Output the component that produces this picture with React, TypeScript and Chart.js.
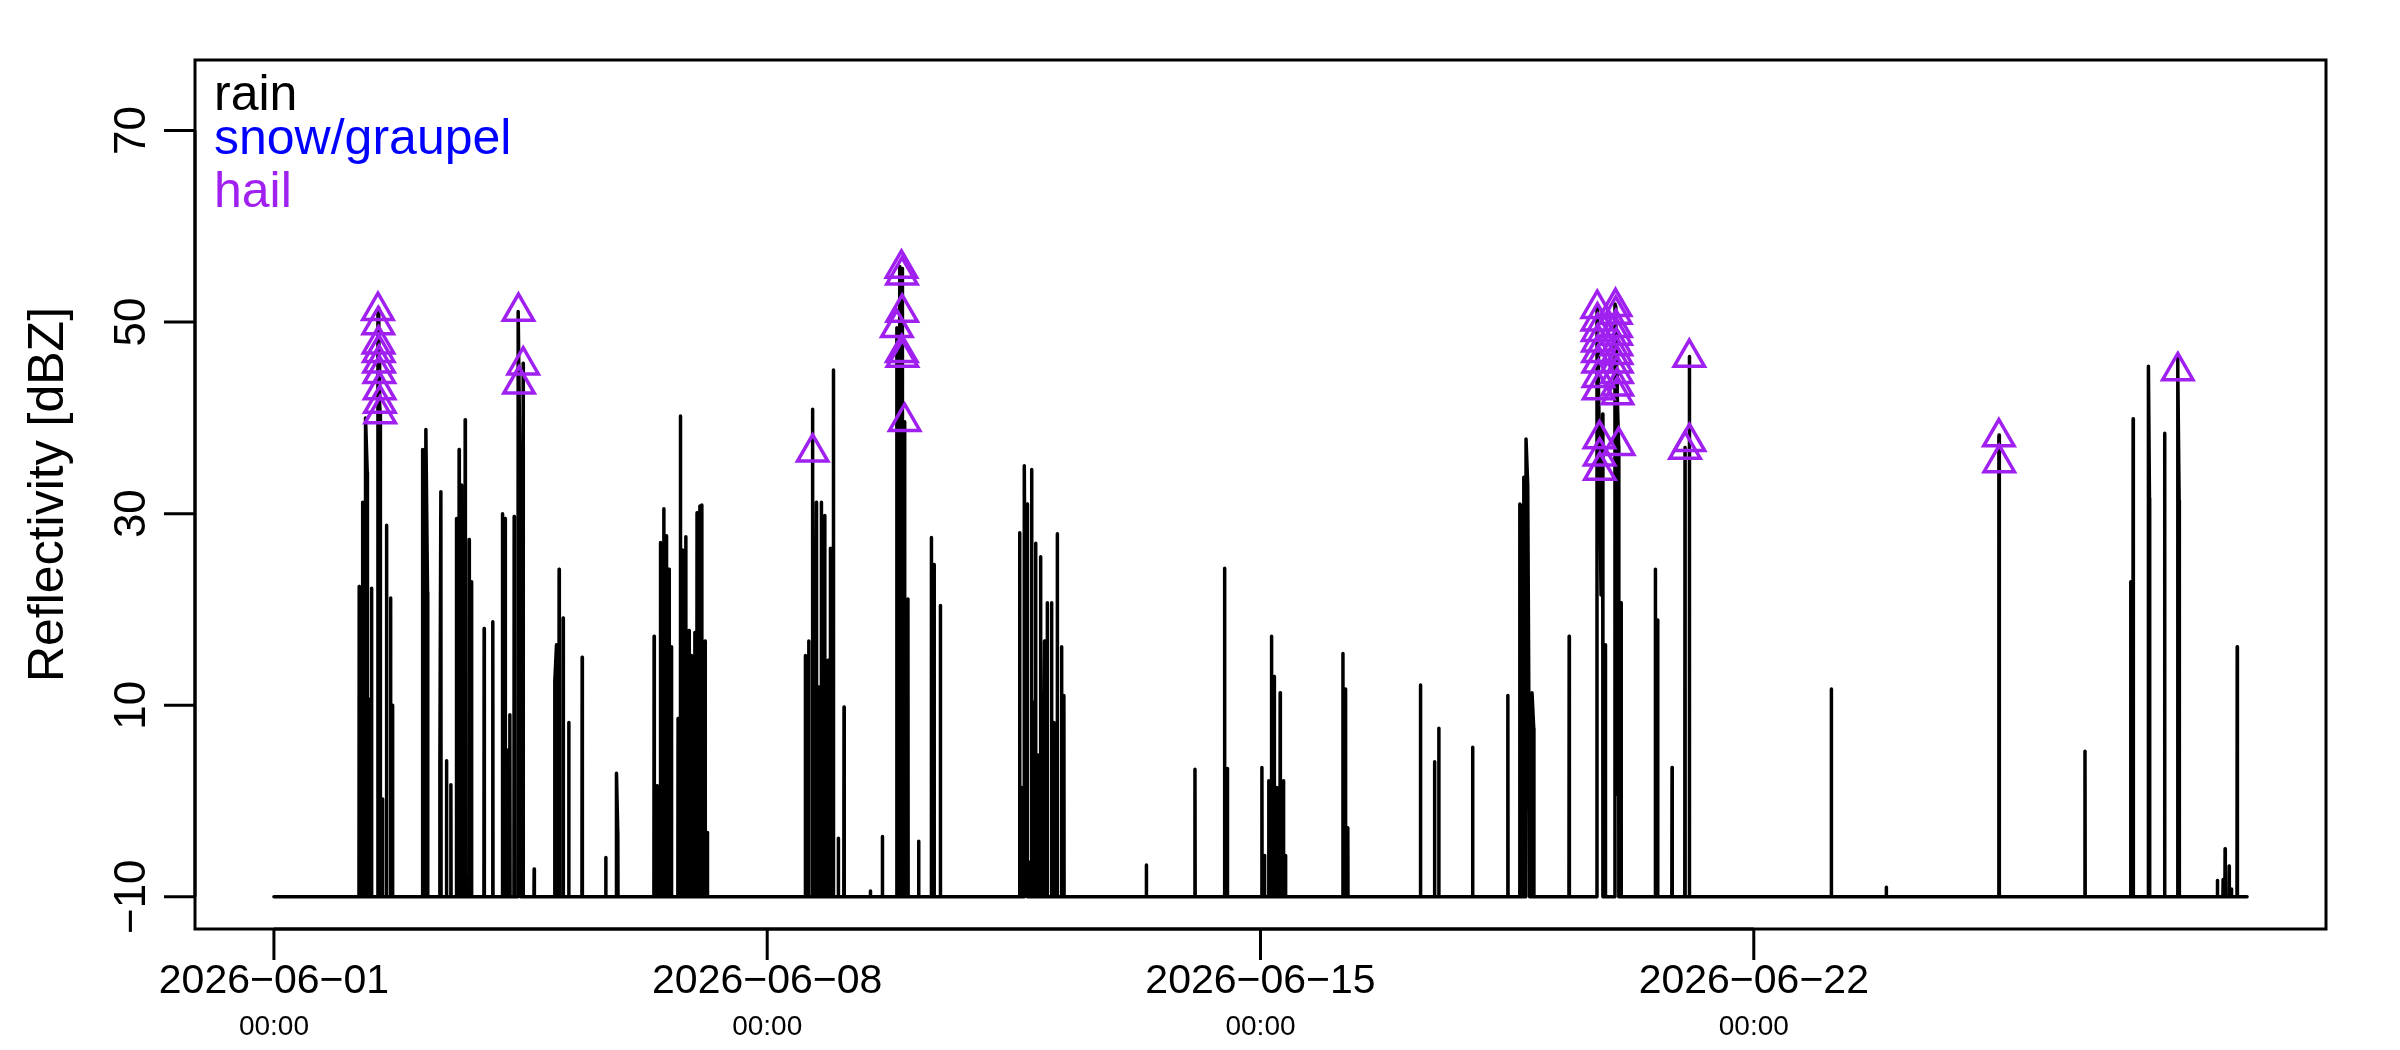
import React, { useEffect, useRef } from 'react';
import { Chart, registerables } from 'chart.js';

Chart.register(...registerables);

// ---- data (days since 2026-06-01 00:00, reflectivity in dBZ) ----
const rainDay = [
  1.21, 1.258, 1.3, 1.324, 1.352, 1.385, 1.49, 1.541, 1.598, 1.655, 1.683,
  2.109, 2.156, 2.18, 2.355, 2.369, 2.449, 2.511, 2.59, 2.628, 2.662, 2.714, 2.77, 2.804,
  2.983, 3.106, 3.243, 3.281, 3.31, 3.348, 3.409, 3.466, 3.499, 3.537, 3.693,
  3.986, 4.01, 4.047, 4.104, 4.184, 4.374,
  4.709, 4.861, 4.88, 5.395, 5.437, 5.485, 5.532, 5.57, 5.607, 5.641, 5.735, 5.768,
  5.797, 5.844, 5.891, 5.924, 5.972, 6.004, 6.043, 6.071, 6.118, 6.151,
  7.541, 7.589, 7.641, 7.674, 7.697, 7.73, 7.768, 7.816, 7.863, 7.896, 7.939, 8.009, 8.09,
  8.464, 8.634, 8.846, 8.879, 8.917, 8.95, 8.997, 9.149,
  9.329, 9.367, 9.457,
  10.582, 10.61, 10.648, 10.671, 10.69, 10.723, 10.752, 10.78, 10.809, 10.842, 10.879,
  10.912, 10.936, 10.974, 11.007, 11.035, 11.068, 11.116, 11.149, 11.177, 11.21,
  12.38, 13.07, 13.49, 13.53,
  14.02, 14.057, 14.118, 14.156, 14.194, 14.232, 14.279, 14.326, 14.355,
  15.17, 15.206, 15.239, 16.27, 16.47, 16.53, 17.01, 17.51,
  17.68, 17.702, 17.735, 17.768, 17.792, 17.816, 17.853, 17.877, 18.38,
  18.775, 18.832, 18.856, 18.894, 19.03, 19.059, 19.116, 19.603, 19.636, 19.84,
  20.024, 20.085, 22.1, 22.88,
  24.48, 25.7, 26.35, 26.383, 26.6, 26.615, 26.83, 27.017, 27.036,
  27.579, 27.66, 27.688, 27.745, 27.778, 27.86,
];
const rainDbz = [
  22.4, 31.2, 40.0, 34.3, 10.6, 22.2, 51.5, 0.2, 28.8, 21.2, 10.0,
  36.7, 38.8, 21.8, 3.7, 32.3, 4.2, 1.7, 29.5, 36.7, 33.0, 39.8, 27.3, 22.9,
  18.0, 18.7, 30.0, 29.5, 5.3, 9.0, 29.7, 51.1, 28.6, 45.7, -7.1,
  12.5, 16.3, 24.2, 19.1, 8.2, 15.0,
  -5.9, 2.9, -3.5, 17.2, 1.6, 27.0, 30.5, 27.7, 24.2, 16.1, 8.6, 40.2,
  26.2, 27.6, 17.8, 15.2, 17.6, 30.1, 30.8, 30.9, 16.7, -3.3,
  15.2, 16.7, 40.9, -7.0, 31.2, 11.9, 31.2, 29.8, 14.7, 26.4, 45.0, -3.9, 9.8,
  -9.4, -3.7, 33.0, 55.8, 55.6, 36.9, 21.1, -4.2,
  27.5, 24.7, 20.4,
  28.0, 1.4, 35.0, 0.9, 31.0, -6.4, 34.6, 10.3, 26.9, 4.8, 25.5,
  -10.0, 16.7, 20.7, -10.0, 20.7, 8.2, 27.9, -10.0, 16.1, 11.0,
  -6.7, 3.3, 24.3, 3.4,
  3.5, -5.7, 2.1, 17.2, 13.0, 1.4, 11.3, 2.1, -5.7,
  15.4, 11.7, -2.8, 12.1, 4.1, 7.6, 5.6, 11.0,
  31.0, 30.8, 33.8, 37.8, 33.0, -1.3, 11.3, 7.6, 17.2,
  51.4, 21.5, 40.4, 16.3, 51.9, 0.7, 20.7, 24.2, 18.9, 3.5,
  36.9, 46.4, 11.7, -9.0,
  38.2, 5.2, 22.9, 39.9, 45.4, 31.6, 38.4, 46.4, 31.4,
  -8.3, -8.2, -5.0, -6.8, -9.2, 16.1,
];

const hailDay = [
  1.476, 1.48, 1.484, 1.488, 1.492, 1.496, 1.5, 1.504, 1.508,
  3.47, 3.478, 3.537,
  7.645,
  8.84, 8.905, 8.91, 8.912, 8.915, 8.918, 8.95,
  18.778, 18.781, 18.784, 18.787, 18.79, 18.793, 18.796, 18.799, 18.81, 18.813, 18.816,
  19.038, 19.041, 19.044, 19.047, 19.05, 19.053, 19.056, 19.059, 19.062, 19.065, 19.082,
  20.024, 20.085, 20.088,
  24.478, 24.483,
  27.017,
];
const hailDbz = [
  51.2, 49.7, 47.7, 46.8, 45.7, 44.6, 42.9, 41.5, 40.4,
  51.1, 43.5, 45.5,
  36.4,
  49.4, 55.6, 46.8, 54.9, 51.0, 46.3, 39.6,
  51.4, 50.1, 49.0, 47.9, 46.8, 45.7, 44.2, 42.9, 37.8, 36.0, 34.5,
  51.6, 50.8, 49.4, 48.6, 47.5, 46.6, 45.7, 44.6, 43.3, 42.4, 37.1,
  36.7, 46.3, 37.5,
  38.0, 35.3,
  44.9,
];

const snowDay: number[] = [];
const snowDbz: number[] = [];

const seriesStartDay = 0;
const seriesEndDay = 28;
const noEchoDbz = -10;

const xAxisMin = -1.12;
const xAxisMax = 29.12;
const yAxisMin = -13.37;
const yAxisMax = 77.37;

const xTickDays = [0, 7, 14, 21];
const xTickDates = ['2026\u221206\u221201', '2026\u221206\u221208', '2026\u221206\u221215', '2026\u221206\u221222'];
const xTickTimes = ['00:00', '00:00', '00:00', '00:00'];
const yTickValues = [-10, 10, 30, 50, 70];
const yTickLabels = ['\u221210', '10', '30', '50', '70'];
const legendLabels = ['rain', 'snow/graupel', 'hail'];
const legendColors = ['#000000', '#0000FF', '#A020F0'];
const yTitle = 'Reflectivity [dBZ]';

const FONT = '"Liberation Sans", Arial, Helvetica, sans-serif';

// sample-to-sample gap (days) beyond which the series falls back to the no-echo floor
const GAP = 0.025;
const DIP = 0.003;

function buildLinePoints() {
  const pts = rainDay
    .map((d, i) => ({ x: d, y: rainDbz[i] }))
    .concat(hailDay.map((d, i) => ({ x: d, y: hailDbz[i] })))
    .concat(snowDay.map((d, i) => ({ x: d, y: snowDbz[i] })))
    .sort((a, b) => a.x - b.x);
  const out: { x: number; y: number }[] = [{ x: seriesStartDay, y: noEchoDbz }];
  for (let i = 0; i < pts.length; i++) {
    const p = pts[i];
    const prev = pts[i - 1];
    const next = pts[i + 1];
    if (!prev || p.x - prev.x > GAP) out.push({ x: p.x - DIP, y: noEchoDbz });
    out.push(p);
    if (!next || next.x - p.x > GAP) out.push({ x: p.x + DIP, y: noEchoDbz });
  }
  out.push({ x: seriesEndDay, y: noEchoDbz });
  return out;
}

const decorPlugin = {
  id: 'rDecor',
  afterDraw(chart: any) {
    const { ctx, chartArea, scales } = chart;
    const xs = scales.x;
    const ys = scales.y;
    const { left, right, top, bottom } = chartArea;
    ctx.save();
    ctx.strokeStyle = '#000';
    ctx.fillStyle = '#000';
    ctx.lineWidth = 3;
    ctx.lineCap = 'butt';
    // box
    ctx.strokeRect(left, top, right - left, bottom - top);

    // x axis
    const tickLen = 31;
    const xPix = xTickDays.map((d) => xs.getPixelForValue(d));
    ctx.beginPath();
    ctx.moveTo(xPix[0], bottom);
    ctx.lineTo(xPix[xPix.length - 1], bottom);
    xPix.forEach((px) => {
      ctx.moveTo(px, bottom);
      ctx.lineTo(px, bottom + tickLen);
    });
    ctx.stroke();
    ctx.textAlign = 'center';
    ctx.textBaseline = 'alphabetic';
    xPix.forEach((px, i) => {
      ctx.font = `41px ${FONT}`;
      ctx.fillText(xTickDates[i], px, bottom + 64);
      ctx.font = `28px ${FONT}`;
      ctx.fillText(xTickTimes[i], px, bottom + 106);
    });

    // y axis
    const yPix = yTickValues.map((v) => ys.getPixelForValue(v));
    ctx.beginPath();
    ctx.moveTo(left, yPix[0]);
    ctx.lineTo(left, yPix[yPix.length - 1]);
    yPix.forEach((py) => {
      ctx.moveTo(left, py);
      ctx.lineTo(left - tickLen, py);
    });
    ctx.stroke();
    ctx.font = `44px ${FONT}`;
    yPix.forEach((py, i) => {
      ctx.save();
      ctx.translate(left - 50, py);
      ctx.rotate(-Math.PI / 2);
      ctx.fillText(yTickLabels[i], 0, 0);
      ctx.restore();
    });

    // y title
    ctx.save();
    ctx.font = `50px ${FONT}`;
    ctx.translate(63, (top + bottom) / 2);
    ctx.rotate(-Math.PI / 2);
    ctx.fillText(yTitle, 0, 0);
    ctx.restore();

    // legend (text only)
    ctx.textAlign = 'left';
    ctx.font = `50px ${FONT}`;
    const legendBaselines = [50, 94, 147];
    legendLabels.forEach((lab, i) => {
      ctx.fillStyle = legendColors[i];
      ctx.fillText(lab, left + 19, top + legendBaselines[i]);
    });
    ctx.restore();
  },
};

export default function App() {
  const canvasRef = useRef<HTMLCanvasElement | null>(null);

  useEffect(() => {
    const canvas = canvasRef.current;
    if (!canvas) return;
    const chart = new Chart(canvas, {
      type: 'line',
      data: {
        datasets: [
          {
            label: 'hail',
            data: hailDay.map((d, i) => ({ x: d, y: hailDbz[i] })),
            showLine: false,
            pointStyle: 'triangle',
            pointRadius: 17.5,
            pointBorderWidth: 3.5,
            pointBorderColor: '#A020F0',
            pointBackgroundColor: 'rgba(0,0,0,0)',
            borderColor: '#A020F0',
            backgroundColor: 'rgba(0,0,0,0)',
            order: 0,
          },
          {
            label: 'snow/graupel',
            data: snowDay.map((d, i) => ({ x: d, y: snowDbz[i] })),
            showLine: false,
            pointStyle: 'circle',
            pointRadius: 10,
            pointBorderWidth: 3,
            pointBorderColor: '#0000FF',
            pointBackgroundColor: 'rgba(0,0,0,0)',
            borderColor: '#0000FF',
            order: 1,
          },
          {
            label: 'rain',
            data: buildLinePoints(),
            borderColor: '#000000',
            borderWidth: 3.5,
            pointRadius: 0,
            tension: 0,
            borderJoinStyle: 'round',
            borderCapStyle: 'round',
            fill: false,
            order: 2,
          },
        ],
      },
      options: {
        animation: false,
        responsive: false,
        devicePixelRatio: 1,
        parsing: false,
        events: [],
        layout: { padding: { left: 195, top: 60, right: 74, bottom: 121 } },
        scales: {
          x: { type: 'linear', min: xAxisMin, max: xAxisMax, display: false },
          y: { type: 'linear', min: yAxisMin, max: yAxisMax, display: false },
        },
        plugins: {
          legend: { display: false },
          tooltip: { enabled: false },
        },
      },
      plugins: [decorPlugin],
    } as any);
    return () => chart.destroy();
  }, []);

  return (
    <div style={{ position: 'fixed', left: 0, top: 0, width: 2400, height: 1050, background: '#fff' }}>
      <canvas ref={canvasRef} width={2400} height={1050} style={{ width: 2400, height: 1050, display: 'block' }} />
    </div>
  );
}
